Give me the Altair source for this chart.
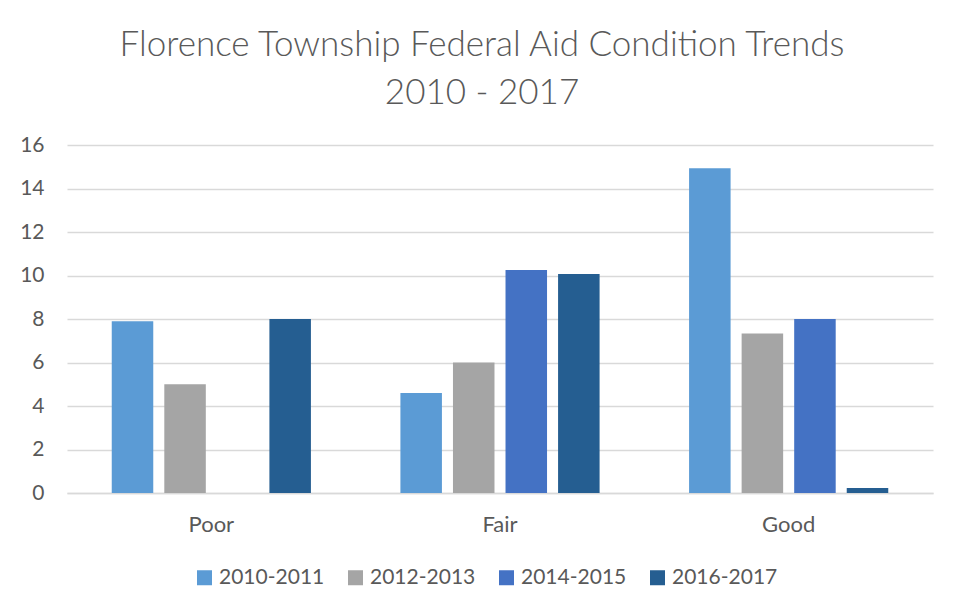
import altair as alt
import pandas as pd

conditions = ["Poor", "Fair", "Good"]
periods = ["2010-2011", "2012-2013", "2014-2015", "2016-2017"]
v_2010_2011 = [7.9, 4.6, 14.93]
v_2012_2013 = [5.0, 6.0, 7.33]
v_2014_2015 = [0.0, 10.25, 8.0]
v_2016_2017 = [8.0, 10.07, 0.23]
colors = ["#5B9BD5", "#A5A5A5", "#4472C4", "#255E91"]

series = [v_2010_2011, v_2012_2013, v_2014_2015, v_2016_2017]
rows = []
for p, vals in zip(periods, series):
    for c, v in zip(conditions, vals):
        rows.append({"Condition": c, "Period": p, "Value": v})
df = pd.DataFrame(rows)

FONT = "Lato"
GREY = "#595959"

chart = alt.Chart(df).mark_bar().encode(
    x=alt.X("Condition:N", sort=conditions, title=None,
            scale=alt.Scale(paddingInner=0.31, paddingOuter=0.155),
            axis=alt.Axis(labelAngle=0, labelFontSize=22, labelColor=GREY, labelFont=FONT,
                          ticks=False, domainColor="#d9d9d9", domainWidth=1.5, labelPadding=21)),
    xOffset=alt.XOffset("Period:N", sort=periods, scale=alt.Scale(paddingInner=0.21, paddingOuter=0)),
    y=alt.Y("Value:Q", title=None,
            scale=alt.Scale(domain=[0, 16]),
            axis=alt.Axis(values=list(range(0, 17, 2)), labelFontSize=21, labelColor=GREY, labelFont=FONT,
                          ticks=False, domain=False, gridColor="#d9d9d9", gridWidth=1.5, labelPadding=23)),
    color=alt.Color("Period:N", sort=periods, scale=alt.Scale(domain=periods, range=colors),
                    legend=alt.Legend(title=None, orient="none", direction="horizontal",
                                      legendX=127, legendY=422, symbolType="square", symbolSize=225,
                                      symbolStrokeWidth=0, labelFontSize=21, labelColor=GREY,
                                      labelFont=FONT, columnPadding=20, labelOffset=4)),
).properties(
    width=866, height=348,
    title=alt.TitleParams(["Florence Township Federal Aid Condition Trends", "2010 - 2017"],
                          fontSize=35, font=FONT, fontWeight=300, color=GREY, anchor="middle",
                          dx=-18, offset=23, lineHeight=48),
    padding={"left": 59, "top": 137, "right": 20, "bottom": 100},
    autosize=alt.AutoSizeParams(type="none"),
).configure_view(stroke=None)

chart.save("out.html", embed_options={"renderer": "svg", "actions": False})
